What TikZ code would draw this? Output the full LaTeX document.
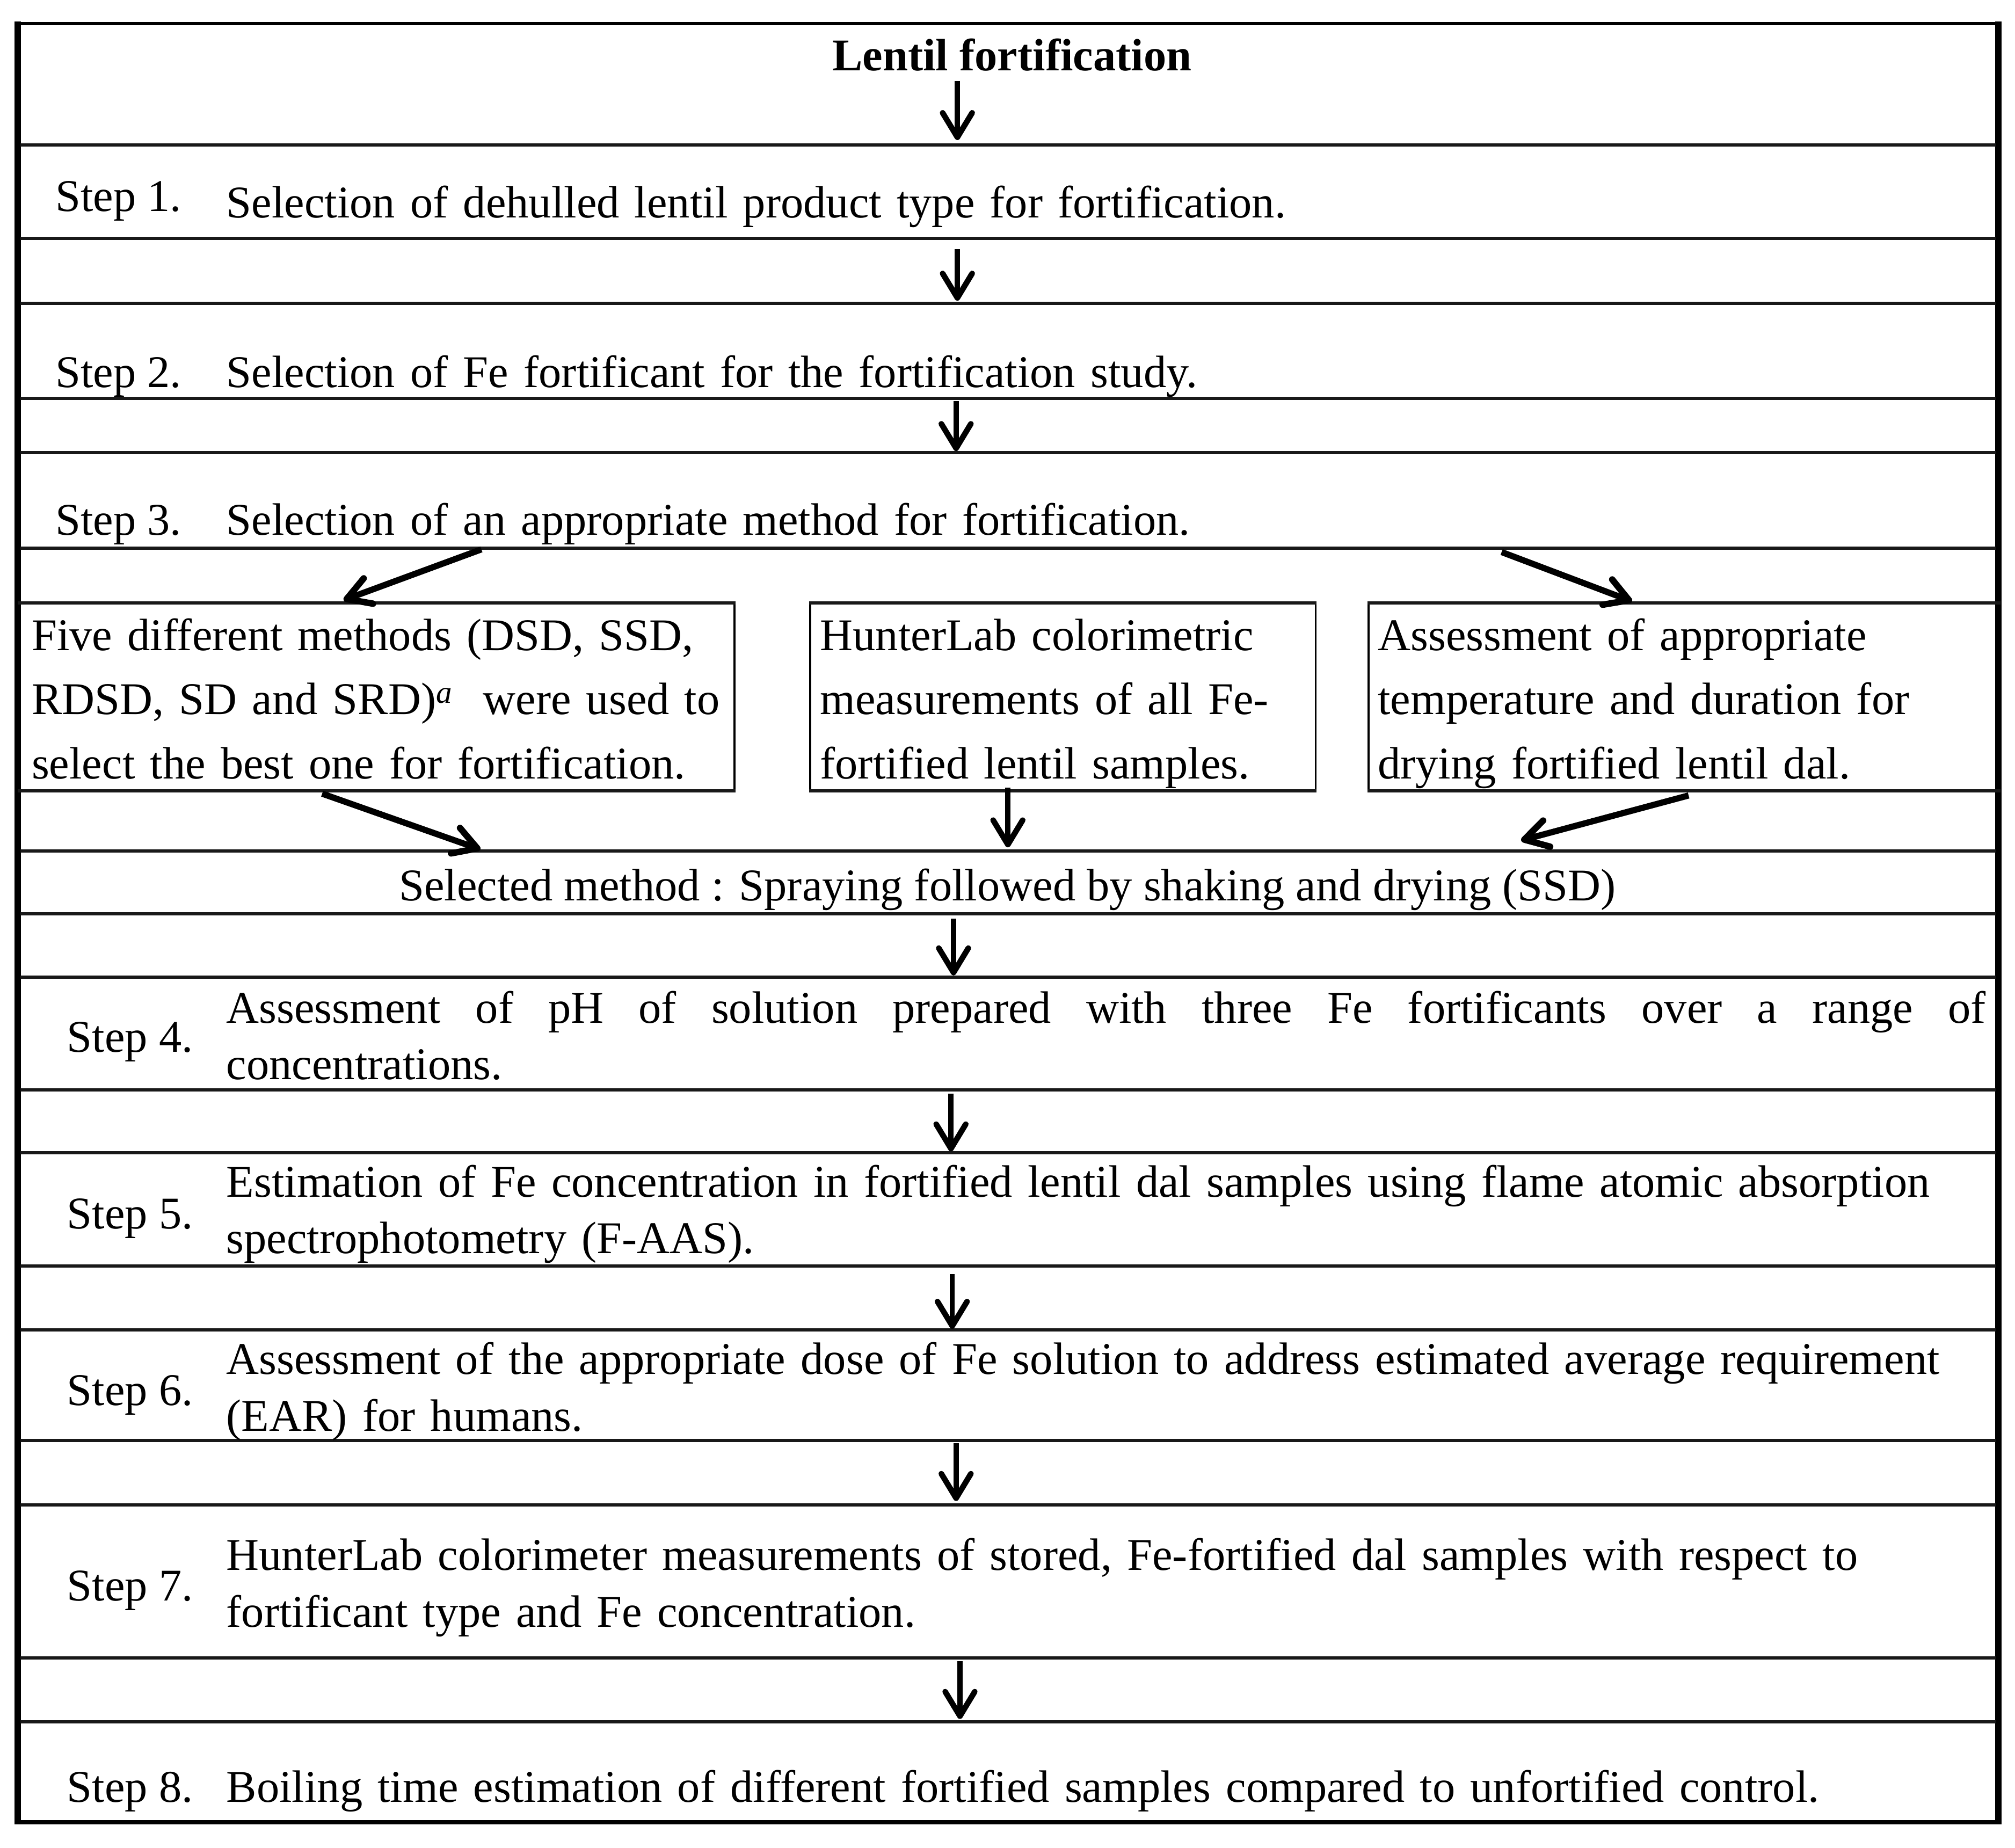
\documentclass[tikz,border=0pt]{standalone}
\usepackage{fontspec}
\setmainfont{Liberation Serif}[Ligatures={TeX,NoCommon}]
\usetikzlibrary{arrows.meta}
\newcommand{\fsz}{\fontsize{35.3}{44}\selectfont}
\begin{document}
\begin{tikzpicture}[x=1pt,y=-1pt,
  sep/.style={line width=2.5pt, draw=black!90},
  frameline/.style={line width=#1, draw=black},
  boxshape/.style={draw=black, line width=1.6pt, inner sep=0pt, anchor=north west, minimum height=145pt},
  varr/.style={line width=4pt, -{Straight Barb[length=19pt,width=23pt,line width=4.4pt,round]}},
  darr/.style={line width=4.8pt, -{Straight Barb[length=18pt,width=21pt,line width=5pt,round]}},
  steplbl/.style={inner sep=0pt, anchor=base west, font=\fsz},
  txt/.style={inner sep=0pt, anchor=base west, text width=1385pt, align=left, font=\fsz},
  boxtxt/.style={inner sep=0pt, anchor=base west, text width=560pt, align=left, font=\fontsize{35.3}{50}\selectfont},
]
\useasboundingbox (0,0) rectangle (1568,1438);

% outer frame
\draw[frameline=5pt] (13.9,16.9) -- (13.9,1419.7);
\draw[frameline=5pt] (1555,16.9) -- (1555,1419.7);
\draw[frameline=2.8pt] (11.4,18.4) -- (1557.5,18.4);
\draw[frameline=3.4pt] (11.4,1418) -- (1557.5,1418);

% row separators
\foreach \yy in {112.7,185.5,236,310,352,426.5,662,711,760.5,848,897,985,1035,1121,1171,1290,1340}
  \draw[sep] (16,\yy) -- (1553,\yy);

% title
\node[inner sep=0pt, anchor=base, font=\bfseries\fsz] (title) at (787.5,55) {Lentil fortification};

% steps 1-3
\node[steplbl] (l1) at (43,164.5) {Step 1.};
\node[txt] (s1) at (176,169.5) {Selection of dehulled lentil product type for fortification.};
\node[steplbl] (l2) at (43,301.5) {Step 2.};
\node[txt] (s2) at (176,301.5) {Selection of Fe fortificant for the fortification study.};
\node[steplbl] (l3) at (43,416.5) {Step 3.};
\node[txt] (s3) at (176,416.5) {Selection of an appropriate method for fortification.};

% three boxes
\node[boxshape, minimum width=556.8pt] (bxA) at (13.9,469) {};
\node[boxshape, minimum width=393.4pt] (bxB) at (629.6,469) {};
\node[boxshape, minimum width=491pt] (bxC) at (1064,469) {};
\foreach \b in {bxA,bxB,bxC}{
  \draw[sep] (\b.north west) -- (\b.north east);
  \draw[sep] (\b.south west) -- (\b.south east);
}
\node[boxtxt] (tA) at (24.5,506) {Five different methods (DSD, SSD,\\RDSD, SD and SRD)\textsuperscript{\textit{a}}\ \ were used to\\select the best one for fortification.};
\node[boxtxt] (tB) at (638,506) {HunterLab colorimetric\\measurements of all Fe-\\fortified lentil samples.};
\node[boxtxt] (tC) at (1072,506) {Assessment of appropriate\\temperature and duration for\\drying fortified lentil dal.};

% selected method
\node[inner sep=0pt, anchor=base, font=\fsz] (sel) at (784,701) {Selected method : Spraying followed by shaking and drying (SSD)};

% steps 4-8
\node[steplbl] (l4) at (52,818.5) {Step 4.};
\node[txt] (s4) at (176,796) {\hbox to 1369pt{Assessment\hfill of\hfill pH\hfill of\hfill solution\hfill prepared\hfill with\hfill three\hfill Fe\hfill fortificants\hfill over\hfill a\hfill range\hfill of}\\concentrations.};
\node[steplbl] (l5) at (52,956) {Step 5.};
\node[txt] (s5) at (176,931.5) {Estimation of Fe concentration in fortified lentil dal samples using flame atomic absorption\\spectrophotometry (F-AAS).};
\node[steplbl] (l6) at (52,1093.5) {Step 6.};
\node[txt] (s6) at (176,1069.5) {Assessment of the appropriate dose of Fe solution to address estimated average requirement\\(EAR) for humans.};
\node[steplbl] (l7) at (52,1245.5) {Step 7.};
\node[txt] (s7) at (176,1222) {HunterLab colorimeter measurements of stored, Fe-fortified dal samples with respect to\\fortificant type and Fe concentration.};
\node[steplbl] (l8) at (52,1402.5) {Step 8.};
\node[txt] (s8) at (176,1402.5) {Boiling time estimation of different fortified samples compared to unfortified control.};

% arrow end points
\coordinate (a0s) at (745,63);     \coordinate (a0e) at (745,109);
\coordinate (a1s) at (745,194);    \coordinate (a1e) at (745,234);
\coordinate (a2s) at (744,312);    \coordinate (a2e) at (744,351);
\coordinate (a3s) at (374.6,427.5); \coordinate (a3e) at (267.4,467);
\coordinate (a4s) at (1168.5,429.6); \coordinate (a4e) at (1270,468);
\coordinate (a5s) at (250.7,617.6); \coordinate (a5e) at (373.8,661);
\coordinate (a6s) at (784.3,613);  \coordinate (a6e) at (784.3,659.4);
\coordinate (a7s) at (1314,619);   \coordinate (a7e) at (1183.7,654);
\coordinate (a8s) at (742,715);    \coordinate (a8e) at (742,759);
\coordinate (a9s) at (740,851);    \coordinate (a9e) at (740,896);
\coordinate (a10s) at (741,991.5); \coordinate (a10e) at (741,1034);
\coordinate (a11s) at (744,1123);  \coordinate (a11e) at (744,1168);
\coordinate (a12s) at (747,1292.7); \coordinate (a12e) at (747,1337.6);

\draw[varr] (a0s) -- (a0e);
\draw[varr] (a1s) -- (a1e);
\draw[varr] (a2s) -- (a2e);
\draw[darr] (a3s) -- (a3e);
\draw[darr] (a4s) -- (a4e);
\draw[darr] (a5s) -- (a5e);
\draw[varr] (a6s) -- (a6e);
\draw[darr] (a7s) -- (a7e);
\draw[varr] (a8s) -- (a8e);
\draw[varr] (a9s) -- (a9e);
\draw[varr] (a10s) -- (a10e);
\draw[varr] (a11s) -- (a11e);
\draw[varr] (a12s) -- (a12e);
\end{tikzpicture}
\end{document}
